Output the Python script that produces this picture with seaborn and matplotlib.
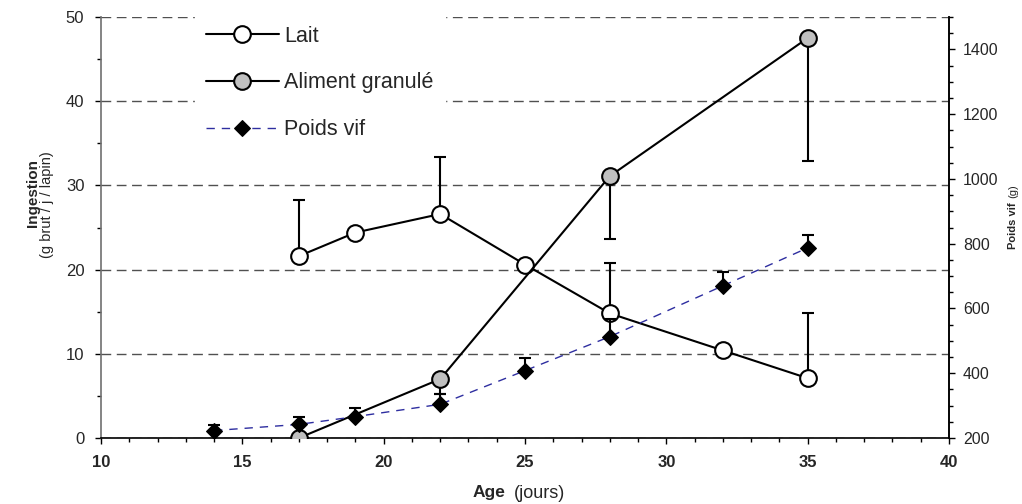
import numpy as np
import pandas as pd
import matplotlib
matplotlib.use("Agg")
import matplotlib.pyplot as plt
from matplotlib.ticker import MultipleLocator
import seaborn as sns

# ---- data ----
age_lait = [17, 19, 22, 25, 28, 32, 35]
lait = [21.6, 24.4, 26.6, 20.6, 14.8, 10.4, 7.1]
lait_err_up = [6.7, 0, 6.8, 0, 6.0, 0, 7.8]

age_alim = [17, 22, 28, 35]
aliment = [0.0, 7.0, 31.1, 47.5]
aliment_err_down = [0, 1.8, 7.5, 14.6]

age_poids = [14, 17, 19, 22, 25, 28, 32, 35]
poids = [223, 242, 266, 304, 408, 513, 670, 787]
poids_err_up = [17, 22, 27, 32, 39, 55, 44, 41]

sns.set_theme(style="white")
plt.rcParams['font.family'] = ['Liberation Sans', 'DejaVu Sans']

fig = plt.figure(figsize=(10.22, 5.04), dpi=100)
ax = fig.add_axes([101/1022, 1-438/504, 848/1022, 421/504])
ax2 = ax.twinx()

# error bars
ax.errorbar(age_lait, lait, yerr=[np.zeros(len(lait)), lait_err_up], fmt='none',
            ecolor='black', elinewidth=1.5, capsize=4, capthick=1.5, zorder=2)
ax.errorbar(age_alim, aliment, yerr=[aliment_err_down, np.zeros(len(aliment))], fmt='none',
            ecolor='black', elinewidth=1.5, capsize=4, capthick=1.5, zorder=2)

sns.lineplot(x=age_lait, y=lait, ax=ax, color='black', linewidth=1.5, marker='o',
             markersize=12, markerfacecolor='white', markeredgecolor='black',
             markeredgewidth=1.5, label='Lait', zorder=3, legend=False)
sns.lineplot(x=age_alim, y=aliment, ax=ax, color='black', linewidth=1.5, marker='o',
             markersize=12, markerfacecolor='#C0C0C0', markeredgecolor='black',
             markeredgewidth=1.5, label='Aliment granulé', zorder=3, legend=False)

ax2.errorbar(age_poids, poids, yerr=[np.zeros(len(poids)), poids_err_up], fmt='none',
             ecolor='black', elinewidth=1.5, capsize=4, capthick=1.5, zorder=2)
sns.lineplot(x=age_poids, y=poids, ax=ax2, color='#2E2EA0', linewidth=1,
             linestyle=(0, (6, 5)), marker='D', markersize=8,
             markerfacecolor='black', markeredgecolor='black', label='Poids vif',
             zorder=3, legend=False)

# axes
ax.set_xlim(10, 40)
ax.set_ylim(0, 50)
ax2.set_ylim(200, 1500)
ax.xaxis.set_major_locator(MultipleLocator(5))
ax.xaxis.set_minor_locator(MultipleLocator(1))
ax.yaxis.set_major_locator(MultipleLocator(10))
ax.yaxis.set_minor_locator(MultipleLocator(5))
ax2.set_yticks([200, 400, 600, 800, 1000, 1200, 1400])
ax2.yaxis.set_minor_locator(MultipleLocator(50))

ax.set_xlabel('')
ax.set_ylabel('')
ax2.set_ylabel('')

ax.yaxis.grid(True, which='major', linestyle=(0, (7, 4)), color='#505050', linewidth=1)
ax.xaxis.grid(False)
ax.set_axisbelow(True)

for a in (ax, ax2):
    a.spines['top'].set_visible(False)
ax.spines['left'].set_color('#707070')
ax.spines['bottom'].set_color('black')
ax2.spines['right'].set_color('black')
ax2.spines['left'].set_visible(False)
ax2.spines['bottom'].set_visible(False)
for s in ('left', 'bottom'):
    ax.spines[s].set_linewidth(1.2)
ax2.spines['right'].set_linewidth(1.2)

ax.tick_params(axis='x', which='major', direction='out', length=4, width=1, color='black',
               labelsize=12, pad=8, bottom=True)
ax.tick_params(axis='x', which='minor', direction='out', length=3, width=1, color='black', bottom=True)
ax.tick_params(axis='y', which='major', direction='out', length=4, width=1, color='black',
               labelsize=12, pad=8, left=True)
ax.tick_params(axis='y', which='minor', direction='out', length=3, width=1, color='black', left=True)
ax2.tick_params(axis='y', which='major', direction='out', length=4, width=1, color='black',
                labelsize=11.5, pad=6, right=True)
ax2.tick_params(axis='y', which='minor', direction='out', length=3, width=1, color='black', right=True)
for lab in ax.get_xticklabels():
    lab.set_fontweight('bold')

# labels
fig.text(33/1022, 1-193/504, 'Ingestion', rotation=90, ha='center', va='center',
         fontsize=11, fontweight='bold')
fig.text(47/1022, 1-205/504, '(g brut / j / lapin)', rotation=90, ha='center', va='center',
         fontsize=10.5)
fig.text(505/1022, 1-493/504, 'Age', ha='right', va='center', fontsize=12.5, fontweight='bold')
fig.text(514/1022, 1-493/504, '(jours)', ha='left', va='center', fontsize=13)
fig.text(1013/1022, 1-226/504, 'Poids vif', rotation=90, ha='center', va='center',
         fontsize=8, fontweight='bold')
fig.text(1013/1022, 1-191/504, '(g)', rotation=90, ha='center', va='center', fontsize=8)

# legend
h1, l1 = ax.get_legend_handles_labels()
h2, l2 = ax2.get_legend_handles_labels()
leg = ax2.legend(h1 + h2, l1 + l2, loc='upper left', bbox_to_anchor=(0.111, 1.005),
                 borderaxespad=0, frameon=True, fontsize=15.5, handlelength=3.4,
                 handletextpad=0.25, labelspacing=1.2, borderpad=0.5, fancybox=False)
leg.get_frame().set_facecolor('white')
leg.get_frame().set_edgecolor('white')
leg.get_frame().set_alpha(1)

fig.savefig('out.png', dpi=100)
